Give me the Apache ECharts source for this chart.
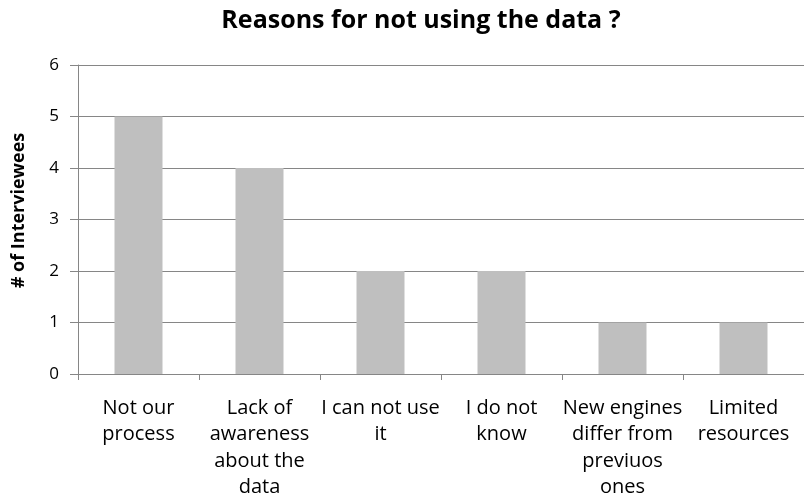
<!DOCTYPE html>
<html>
<head>
<meta charset="utf-8">
<script src="https://cdn.jsdelivr.net/npm/echarts@6/dist/echarts.min.js"></script>
<style>
  html, body { margin: 0; padding: 0; background: #fff; }
  #chart { width: 804px; height: 503px; }
</style>
</head>
<body>
<div id="chart"></div>
<script>
// Survey answers: why interviewees do not use the data
const categories = [
  'Not our\nprocess',
  'Lack of\nawareness\nabout the\ndata',
  'I can not use\nit',
  'I do not\nknow',
  'New engines\ndiffer from\npreviuos\nones',
  'Limited\nresources'
];
const interviewees = [5, 4, 2, 2, 1, 1];
const yTicks = { min: 0, max: 6, interval: 1 };

const FONT = '"Open Sans", "Noto Sans", sans-serif';
const AXIS_GRAY = '#868686';

const chart = echarts.init(document.getElementById('chart'), null, { renderer: 'canvas' });
chart.setOption({
  animation: false,
  backgroundColor: '#ffffff',
  title: {
    text: 'Reasons for not using the data ?',
    left: 416,
    textAlign: 'center',
    top: 3,
    textStyle: { fontFamily: FONT, fontWeight: 'bold', fontSize: 25, color: '#000' }
  },
  grid: { left: 78, top: 65, width: 735, height: 309, containLabel: false },
  xAxis: {
    type: 'category',
    data: categories,
    boundaryGap: true,
    axisLine: { lineStyle: { color: AXIS_GRAY, width: 1 } },
    axisTick: { show: true, length: 6, alignWithLabel: false, lineStyle: { color: AXIS_GRAY } },
    axisLabel: {
      interval: 0,
      margin: 21,
      fontFamily: FONT,
      fontSize: 20,
      lineHeight: 26.5,
      color: '#000',
      align: 'center'
    }
  },
  yAxis: {
    type: 'value',
    min: yTicks.min,
    max: yTicks.max,
    interval: yTicks.interval,
    name: '# of Interviewees',
    nameLocation: 'middle',
    nameGap: 50,
    nameRotate: 90,
    nameTextStyle: { fontFamily: FONT, fontWeight: 'bold', fontSize: 18, color: '#000', padding: [0, 0, 0, 18] },
    axisLine: { show: true, lineStyle: { color: AXIS_GRAY, width: 1 } },
    axisTick: { show: true, length: 8, lineStyle: { color: AXIS_GRAY } },
    splitLine: { show: true, lineStyle: { color: AXIS_GRAY, width: 1 } },
    axisLabel: { margin: 19, fontFamily: FONT, fontSize: 17, color: '#000' }
  },
  series: [{
    type: 'bar',
    data: interviewees,
    barWidth: 48,
    itemStyle: { color: '#BFBFBF' }
  }]
});
</script>
</body>
</html>
